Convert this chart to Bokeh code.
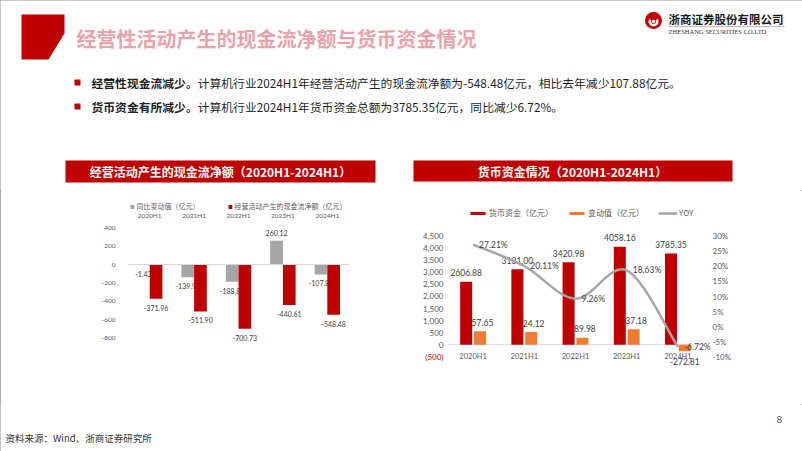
from bokeh.plotting import figure
from bokeh.models import (Range1d, FixedTicker, NumeralTickFormatter, LinearAxis, Label,
                          PrintfTickFormatter, Legend, LegendItem, Span, ColumnDataSource)
from bokeh.layouts import column, row
from bokeh.embed import file_html
from bokeh.resources import INLINE
from bokeh.core.properties import value

CJK = "Noto Sans CJK SC"
NUM = "Lato"
RED = "#C00000"
GRAY = "#A5A5A5"
ORANGE = "#ED7D31"
TXT = "#595959"

# ---------------- texts ----------------
title_text = "经营性活动产生的现金流净额与货币资金情况"
company_cn = "浙商证券股份有限公司"
company_en = "ZHESHANG SECURITIES CO.LTD"
bullet_bold = ["经营性现金流减少。", "货币资金有所减少。"]
bullet_rest = ["计算机行业2024H1年经营活动产生的现金流净额为-548.48亿元，相比去年减少107.88亿元。",
               "计算机行业2024H1年货币资金总额为3785.35亿元，同比减少6.72%。"]
left_title = "经营活动产生的现金流净额（2020H1-2024H1）"
right_title = "货币资金情况（2020H1-2024H1）"
source_text = "资料来源：Wind、浙商证券研究所"
page_no = "8"

# ---------------- data ----------------
periods = ["2020H1", "2021H1", "2022H1", "2023H1", "2024H1"]
cf_change = [-1.43, -139.94, -188.83, 260.12, -107.88]      # 同比变动值（亿元）
cf_net = [-371.96, -511.90, -700.73, -440.61, -548.48]      # 经营活动产生的现金流净额（亿元）
cash = [2606.88, 3131.00, 3420.98, 4058.16, 3785.35]        # 货币资金（亿元）
cash_change = [557.65, 524.12, 289.98, 637.18, -272.81]     # 变动值（亿元）
cash_yoy = [27.21, 20.11, 9.26, 18.63, -6.72]               # YOY (%)
left_ticks = [-800, -600, -400, -200, 0, 200, 400]
cash_ticks = [0, 500, 1000, 1500, 2000, 2500, 3000, 3500, 4000, 4500]
cash_neg_tick = -500
cash_neg_label = "(500)"
yoy_ticks = [-10, -5, 0, 5, 10, 15, 20, 25, 30]
legend_left = ["同比变动值（亿元）", "经营活动产生的现金流净额（亿元）"]
legend_right = ["货币资金（亿元）", "变动值（亿元）", "YOY"]

W = 802
BORDER = "#8F8F8F"


def canvas(w, h, top, bottom):
    p = figure(width=w, height=h, x_range=Range1d(0, w), y_range=Range1d(bottom, top),
               x_axis_type=None, y_axis_type=None, output_backend="svg",
               toolbar_location=None, min_border=0)
    p.grid.visible = False
    p.outline_line_color = None
    return p


def style_axis(ax, size):
    ax.axis_line_color = None
    ax.major_tick_line_color = None
    ax.minor_tick_line_color = None
    ax.major_tick_out = 0
    ax.major_tick_in = 0
    ax.minor_tick_out = 0
    ax.minor_tick_in = 0
    ax.major_label_text_font = NUM
    ax.major_label_text_font_size = size
    ax.major_label_text_color = TXT


# ================= header =================
HH = 190
hd = canvas(W, HH, 0, HH)
hd.patch([21, 64, 64, 48, 21], [14, 14, 33, 59, 59], fill_color=RED, line_color=None)
hd.text(x=[76], y=[38], text=[title_text], text_font=value(CJK), text_font_style="bold",
        text_font_size="20px", text_color="#E8A2AA", text_baseline="middle")
# logo
hd.circle(x=[653], y=[20], radius=8.5, fill_color=RED, line_color=None)
hd.annular_wedge(x=[653], y=[21], inner_radius=2.5, outer_radius=5, start_angle=0.5,
                 end_angle=2.64, direction="clock", fill_color="white", line_color=None)
hd.circle(x=[653], y=[21], radius=1.8, fill_color="white", line_color=None)
hd.text(x=[668], y=[18], text=[company_cn], text_font=value(CJK), text_font_style="bold",
        text_font_size="11.5px", text_color="#1A1A1A", text_baseline="middle")
hd.segment(x0=[668], y0=[26], x1=[784], y1=[26], line_color="#C9A0A0", line_width=0.8)
hd.text(x=[668], y=[31], text=[company_en], text_font=value("Liberation Serif"),
        text_font_size="6.5px", text_color="#333333", text_baseline="middle")
# bullets
by = [82, 106]
hd.rect(x=[77, 77], y=by, width=6, height=6, fill_color=RED, line_color=None)
fs = 11.8
hd.text(x=[91, 91], y=by, text=bullet_bold, text_font=value(CJK), text_font_style="bold",
        text_font_size=f"{fs}px", text_color="#1F1F1F", text_baseline="middle")
hd.text(x=[91 + fs * len(bullet_bold[0])] * 2, y=by, text=bullet_rest, text_font=value(CJK),
        text_font_size=f"{fs}px", text_color="#1F1F1F", text_baseline="middle")
# chart title bars
hd.quad(left=[65, 413], right=[375, 732], top=[160, 160], bottom=[182, 181],
        fill_color=RED, line_color=None)
hd.text(x=[220, 572], y=[171, 170.5], text=[left_title, right_title], text_font=value(CJK),
        text_font_style="bold", text_font_size="12px", text_color="white",
        text_align="center", text_baseline="middle")

# ================= middle row geometry (slide pixels) =================
# both figures of the row share the same frame top/bottom
MH = 214
MT = 2                    # min border top
FT = HH + MT              # frame top in slide px
FB = 366                  # frame bottom in slide px
MB = HH + MH - FB         # min border bottom
LW = 395


def rng(px_zero, px_per_unit, top_px, bottom_px):
    return Range1d((px_zero - bottom_px) / px_per_unit, (px_zero - top_px) / px_per_unit)


# ================= left chart =================
L_ZERO, L_K = 264.0, 18.35 / 200
lp = figure(width=LW, height=MH, x_range=Range1d(-0.5, 4.5),
            y_range=rng(L_ZERO, L_K, FT, FB),
            output_backend="svg", toolbar_location=None,
            min_border_left=127, min_border_right=46, min_border_top=MT, min_border_bottom=MB)
lp.grid.visible = False
lp.outline_line_color = None
idx = list(range(len(periods)))
off_l, bw_l = 0.143, 0.286
lsrc = ColumnDataSource(dict(
    xg=[i - off_l for i in idx], xr=[i + off_l for i in idx],
    chg=cf_change, net=cf_net,
    chg_t=[f"{v:.2f}" for v in cf_change], net_t=[f"{v:.2f}" for v in cf_net],
    chg_o=[9 if v < 0 else -8 for v in cf_change], net_o=[9 if v < 0 else -8 for v in cf_net]))
lp.add_layout(Span(location=0, dimension="width", line_color="#D9D9D9", line_width=1))
g_r = lp.vbar(x="xg", top="chg", bottom=0, width=bw_l, source=lsrc, fill_color=GRAY, line_color=None)
lp.text(x="xg", y="chg", text="chg_t", y_offset="chg_o", source=lsrc, text_font=value(NUM),
        text_font_size="7px", text_color="#404040", text_align="center", text_baseline="middle")
r_r = lp.vbar(x="xr", top="net", bottom=0, width=bw_l, source=lsrc, fill_color=RED, line_color=None)
lp.text(x="xr", y="net", text="net_t", y_offset="net_o", source=lsrc, text_font=value(NUM),
        text_font_size="7px", text_color="#404040", text_align="center", text_baseline="middle")

lp.xaxis.ticker = FixedTicker(ticks=idx)
lp.xaxis.major_label_overrides = {i: periods[i] for i in idx}
lp.xaxis.fixed_location = (L_ZERO - 211) / L_K
lp.xaxis.major_label_standoff = 0
lp.yaxis.ticker = FixedTicker(ticks=left_ticks)
style_axis(lp.xaxis[0], "6.5px")
style_axis(lp.yaxis[0], "6.5px")
lp.yaxis.major_label_standoff = 12
leg_l = Legend(items=[LegendItem(label=legend_left[0], renderers=[g_r]),
                      LegendItem(label=legend_left[1], renderers=[r_r])],
               orientation="horizontal", location="top_center", glyph_width=5, glyph_height=5,
               label_height=8, label_standoff=2, spacing=28, padding=0, margin=201 - FT,
               label_text_font=CJK, label_text_font_size="7px", label_text_color=TXT,
               border_line_color=None, background_fill_alpha=0)
lp.add_layout(leg_l, "center")

# ================= right chart =================
RW = W - LW
R_PL, R_PR, R_FR = 447, 703, 735        # plot-area left/right, frame right (slide px)
R_UNIT = (R_PR - R_PL) / len(periods)   # px per category
R_ZERO, R_K = 344.2, 12.06 / 500
Y_ZERO_PX, Y_K = 326.15, 3.015          # yoy: 0% px, px per 1%
rp = figure(width=RW, height=MH, x_range=Range1d(-0.5, 4.5 + (R_FR - R_PR) / R_UNIT),
            y_range=rng(R_ZERO, R_K, FT, FB),
            output_backend="svg", toolbar_location=None,
            min_border_left=R_PL - LW, min_border_right=W - R_FR, min_border_top=MT,
            min_border_bottom=MB)
rp.grid.visible = False
rp.outline_line_color = None
rp.extra_y_ranges = {"yoy": rng(Y_ZERO_PX, Y_K, FT, FB)}
off_r, bw_r = 0.135, 0.235
rsrc = ColumnDataSource(dict(
    xr=[i - off_r for i in idx], xo=[i + off_r for i in idx], xc=idx,
    cash=cash, chg=cash_change, yoy=cash_yoy,
    cash_t=[f"{v:.2f}" for v in cash], chg_t=[f"{v:.2f}" for v in cash_change],
    yoy_t=[f"{v:.2f}%" for v in cash_yoy],
    chg_o=[-9 if v >= 0 else 10 for v in cash_change]))
rp.segment(x0=[-0.5], y0=[0], x1=[4.5], y1=[0], line_color="#D9D9D9", line_width=1)
o_r = rp.vbar(x="xo", top="chg", bottom=0, width=bw_r, source=rsrc, fill_color=ORANGE, line_color=None)
rp.text(x="xo", y="chg", text="chg_t", y_offset="chg_o", source=rsrc, text_font=value(NUM),
        text_font_size="8.5px", text_color="#404040", text_align="center", text_baseline="middle")
c_r = rp.vbar(x="xr", top="cash", bottom=0, width=bw_r, source=rsrc, fill_color=RED, line_color=None)
rp.text(x="xr", y="cash", text="cash_t", y_offset=-9, source=rsrc, text_font=value(NUM),
        text_font_size="8.5px", text_color="#404040", text_align="center", text_baseline="middle")

# smoothed YOY line (Catmull-Rom style Bezier through the data points)
n = len(cash_yoy)
bz = dict(x0=[], y0=[], x1=[], y1=[], cx0=[], cy0=[], cx1=[], cy1=[])
for i in range(n - 1):
    ip, inn = max(i - 1, 0), min(i + 2, n - 1)
    bz["x0"].append(idx[i]); bz["y0"].append(cash_yoy[i])
    bz["x1"].append(idx[i + 1]); bz["y1"].append(cash_yoy[i + 1])
    bz["cx0"].append(idx[i] + (idx[i + 1] - idx[ip]) / 6)
    bz["cy0"].append(cash_yoy[i] + (cash_yoy[i + 1] - cash_yoy[ip]) / 6)
    bz["cx1"].append(idx[i + 1] - (idx[inn] - idx[i]) / 6)
    bz["cy1"].append(cash_yoy[i + 1] - (cash_yoy[inn] - cash_yoy[i]) / 6)
y_r = rp.bezier(source=ColumnDataSource(bz), x0="x0", y0="y0", x1="x1", y1="y1",
                cx0="cx0", cy0="cy0", cx1="cx1", cy1="cy1", y_range_name="yoy",
                line_color=GRAY, line_width=2.5)
rp.text(x="xc", y="yoy", text="yoy_t", x_offset=6, source=rsrc, y_range_name="yoy",
        text_font=value(NUM), text_font_size="8.5px", text_color="#404040",
        text_align="left", text_baseline="middle")

rp.xaxis.ticker = FixedTicker(ticks=idx)
rp.xaxis.major_label_overrides = {i: periods[i] for i in idx}
rp.xaxis.fixed_location = (R_ZERO - 351) / R_K
rp.xaxis.major_label_standoff = 0
rp.yaxis.ticker = FixedTicker(ticks=cash_ticks)
rp.yaxis.formatter = NumeralTickFormatter(format="0,0")
rp.yaxis.major_label_standoff = 4
yoy_ax = LinearAxis(y_range_name="yoy", ticker=FixedTicker(ticks=yoy_ticks),
                    formatter=PrintfTickFormatter(format="%d%%"), major_label_standoff=9,
                    fixed_location=4.5)
rp.add_layout(yoy_ax, "right")
style_axis(rp.xaxis[0], "7.5px")
style_axis(rp.yaxis[0], "8px")
style_axis(yoy_ax, "8px")
# red "(500)" tick label of the left value axis (in the left side panel, so it is not clipped)
rp.add_layout(Label(x=-0.5, y=cash_neg_tick, x_offset=-4, text=cash_neg_label, text_align="right",
                    text_baseline="middle", text_font=NUM, text_font_size="8px", text_color=RED),
              "left")
leg_r = Legend(items=[LegendItem(label=legend_right[0], renderers=[c_r]),
                      LegendItem(label=legend_right[1], renderers=[o_r]),
                      LegendItem(label=legend_right[2], renderers=[y_r])],
               orientation="horizontal", location=(468 - R_PL, FB - 218), glyph_width=19,
               glyph_height=4, label_height=10, label_standoff=2, spacing=14, padding=0, margin=0,
               label_text_font=CJK, label_text_font_size="8px", label_text_color=TXT,
               border_line_color=None, background_fill_alpha=0)
rp.add_layout(leg_r, "center")

# ================= footer =================
FH = 451 - HH - MH
ft = canvas(W, FH, HH + MH, 451)
ft.text(x=[5], y=[437], text=[source_text], text_font=value(CJK), text_font_size="9.5px",
        text_color="#333333", text_baseline="middle")
ft.text(x=[779], y=[419], text=[page_no], text_font=value(NUM), text_font_size="10px",
        text_color=TXT, text_baseline="middle", text_align="center")

page = column(hd, row(lp, rp, spacing=0), ft, spacing=0,
              styles={"outline": f"1px solid {BORDER}", "outline-offset": "-1px"})
open("out.html", "w").write(file_html(page, INLINE))
